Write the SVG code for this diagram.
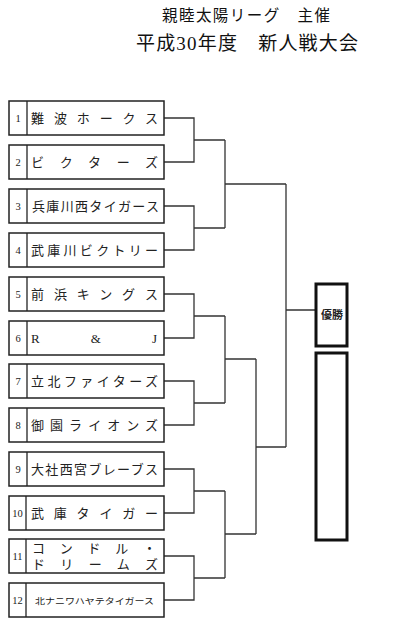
<svg xmlns="http://www.w3.org/2000/svg" width="407" height="640" viewBox="0 0 407 640">
<style>
.bx{fill:#fff;stroke:#222;stroke-width:1.5}
.dv{stroke:#222;stroke-width:1.3}
.num{font-family:"Liberation Serif","Noto Sans CJK JP",serif;font-size:10.5px;fill:#222;text-anchor:middle}
.nm{font-family:"Liberation Serif","Noto Sans CJK JP",serif;font-size:13px;fill:#222}
.sm{font-family:"Liberation Serif","Noto Sans CJK JP",serif;font-size:8.5px;fill:#222}
.ttl{font-family:"Liberation Serif","Noto Sans CJK JP",serif;fill:#111;text-anchor:middle}
.wb{fill:#fff;stroke:#111;stroke-width:3}
#connectors path{fill:none;stroke:#333;stroke-width:1.3}
</style>
<rect width="407" height="640" fill="#fff"/>
<g id="title">
<text class="ttl" x="246" y="21" font-size="15.5" textLength="168" lengthAdjust="spacing">親睦太陽リーグ　主催</text>
<text class="ttl" x="247" y="50" font-size="19" textLength="222" lengthAdjust="spacing">平成30年度　新人戦大会</text>
</g>
<g id="connectors">
<path d="M164,118H194V162H164M194,140H225"/>
<path d="M164,206H194V250H164M194,228H225"/>
<path d="M164,294H194V338H164M194,316H225"/>
<path d="M164,381H194V425H164M194,403H225"/>
<path d="M164,469H194V513H164M194,491H225"/>
<path d="M164,556H194V600H164M194,578H225"/>
<path d="M225,140V228M225,184H286"/>
<path d="M225,316V403M225,359H256"/>
<path d="M225,491V578M225,534H256"/>
<path d="M256,359V534M256,447H286"/>
<path d="M286,184V447M286,310H316"/>
</g>
<g id="t1"><rect class="bx" x="9" y="101" width="155" height="34"/><line class="dv" x1="27" y1="101" x2="27" y2="135"/><text class="num" x="18" y="122">1</text><text class="nm" x="31" y="122.5" textLength="127" lengthAdjust="spacing">難波ホークス</text></g>
<g id="t2"><rect class="bx" x="9" y="145" width="155" height="34"/><line class="dv" x1="27" y1="145" x2="27" y2="179"/><text class="num" x="18" y="166">2</text><text class="nm" x="31" y="166.5" textLength="127" lengthAdjust="spacing">ビクターズ</text></g>
<g id="t3"><rect class="bx" x="9" y="189" width="155" height="34"/><line class="dv" x1="27" y1="189" x2="27" y2="223"/><text class="num" x="18" y="210">3</text><text class="nm" x="32" y="210.5" textLength="127" lengthAdjust="spacing">兵庫川西タイガース</text></g>
<g id="t4"><rect class="bx" x="9" y="233" width="155" height="34"/><line class="dv" x1="27" y1="233" x2="27" y2="267"/><text class="num" x="18" y="254">4</text><text class="nm" x="31" y="254.5" textLength="127" lengthAdjust="spacing">武庫川ビクトリー</text></g>
<g id="t5"><rect class="bx" x="9" y="277" width="155" height="34"/><line class="dv" x1="27" y1="277" x2="27" y2="311"/><text class="num" x="18" y="298">5</text><text class="nm" x="31" y="298.5" textLength="127" lengthAdjust="spacing">前浜キングス</text></g>
<g id="t6"><rect class="bx" x="9" y="321" width="155" height="34"/><line class="dv" x1="27" y1="321" x2="27" y2="355"/><text class="num" x="18" y="342">6</text><text class="nm" x="31" y="342.5" font-size="11" textLength="126" lengthAdjust="spacing">R&amp;J</text></g>
<g id="t7"><rect class="bx" x="9" y="364" width="155" height="34"/><line class="dv" x1="27" y1="364" x2="27" y2="398"/><text class="num" x="18" y="385">7</text><text class="nm" x="31" y="385.5" textLength="127" lengthAdjust="spacing">立北ファイターズ</text></g>
<g id="t8"><rect class="bx" x="9" y="408" width="155" height="34"/><line class="dv" x1="27" y1="408" x2="27" y2="442"/><text class="num" x="18" y="429">8</text><text class="nm" x="31" y="429.5" textLength="127" lengthAdjust="spacing">御園ライオンズ</text></g>
<g id="t9"><rect class="bx" x="9" y="452" width="155" height="34"/><line class="dv" x1="27" y1="452" x2="27" y2="486"/><text class="num" x="18" y="473">9</text><text class="nm" x="31" y="473.5" textLength="127" lengthAdjust="spacing">大社西宮ブレーブス</text></g>
<g id="t10"><rect class="bx" x="9" y="496" width="155" height="34"/><line class="dv" x1="26" y1="496" x2="26" y2="530"/><text class="num" x="17.5" y="517">10</text><text class="nm" x="31" y="517.5" textLength="127" lengthAdjust="spacing">武庫タイガー</text></g>
<g id="t11"><rect class="bx" x="9" y="539" width="155" height="34"/><line class="dv" x1="26" y1="539" x2="26" y2="573"/><text class="num" x="17.5" y="560">11</text><text class="nm" x="32" y="553" font-size="11" textLength="124" lengthAdjust="spacing">コンドル・</text><text class="nm" x="32" y="569" font-size="11" textLength="126" lengthAdjust="spacing">ドリームズ</text></g>
<g id="t12"><rect class="bx" x="9" y="583" width="155" height="34"/><line class="dv" x1="26" y1="583" x2="26" y2="617"/><text class="num" x="17.5" y="604">12</text><text class="sm" x="35" y="603.5" textLength="119" lengthAdjust="spacingAndGlyphs">北ナニワハヤテタイガース</text></g>
<g id="winner"><rect class="wb" x="316" y="284" width="31" height="62"/><text x="332" y="319" font-family="'Liberation Serif','Noto Sans CJK JP',serif" font-size="11" font-weight="bold" fill="#222" text-anchor="middle">優勝</text></g>
<g id="runnerup"><rect class="wb" x="316" y="353" width="31" height="187"/></g>
</svg>
